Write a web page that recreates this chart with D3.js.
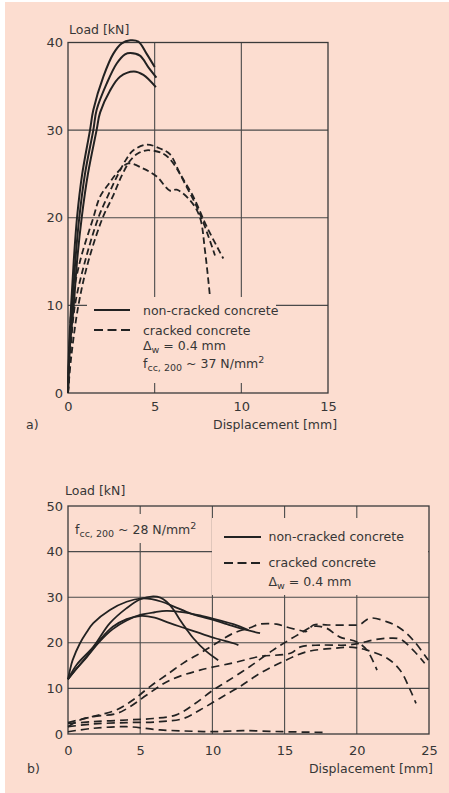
<!DOCTYPE html>
<html>
<head>
<meta charset="utf-8">
<script src="https://cdn.jsdelivr.net/npm/d3@7"></script>
<style>
  html, body { margin: 0; padding: 0; background: #ffffff; }
  svg { display: block; }
  text { font-family: "DejaVu Sans", sans-serif; fill: #363636; }
</style>
</head>
<body>
<svg id="fig" width="449" height="793"></svg>
<script>
// ---- Panel a: tick values (displacement mm, load kN)
const dispTicksA = [0, 5, 10, 15];
const loadTicksA = [0, 10, 20, 30, 40];

// Panel a, non-cracked concrete: [displacement mm, load kN]
const aSolid1 = [[0,0],[0.06,5],[0.18,10],[0.33,15],[0.52,20],[0.82,25],[1.27,30],[1.46,32.3],[2.04,36.1],[2.61,38.7],[3.1,39.9],[3.6,40.25],[4.06,40.1],[4.54,38.7],[5.0,37.2]];
const aSolid2 = [[0,0],[0.08,5],[0.25,10],[0.42,15],[0.65,20],[0.98,25],[1.46,30],[1.65,32.3],[2.23,35.3],[2.81,37.6],[3.29,38.65],[3.6,38.8],[4.15,38.5],[4.63,37.2],[5.1,36.0]];
const aSolid3 = [[0,0],[0.1,5],[0.33,10],[0.52,15],[0.79,20],[1.15,25],[1.65,30],[1.85,32.0],[2.42,34.5],[3.0,36.1],[3.8,36.7],[4.35,36.3],[5.07,34.9]];

// Panel a, cracked concrete (crack width 0.4 mm)
const aDash1 = [[0,0],[0.12,4],[0.4,10],[0.98,15],[1.75,20],[2.3,22.5],[2.9,25],[3.4,26.8],[3.77,27.7],[4.54,28.35],[5.31,27.9],[5.88,27.25],[6.46,25.05],[7.23,22.4],[8.0,19.0],[8.96,15.35]];
const aDash2 = [[0,0],[0.18,4],[0.6,10],[1.17,15],[2.0,20],[2.6,22.5],[3.1,24.8],[3.58,26.5],[4.0,27.3],[4.54,27.7],[5.5,27.3],[6.08,26.2],[6.85,23.5],[7.6,20.5],[8.48,15.7]];
const aDash3 = [[0,0],[0.08,4],[0.21,10],[0.69,15],[1.46,20],[1.85,22.4],[2.4,24],[2.8,25.05],[3.48,26.2],[4.35,25.6],[5.12,24.7],[5.88,23.1],[6.27,23.2],[7.04,22.0],[7.6,20.1],[7.9,16.3],[8.19,11.0]];

// ---- Panel b: tick values
const dispTicksB = [0, 5, 10, 15, 20, 25];
const loadTicksB = [0, 10, 20, 30, 40, 50];

// Panel b, non-cracked concrete
const bSolid1 = [[0,12],[0.15,14.2],[0.32,16.2],[0.83,19.9],[1.29,22.3],[1.75,24.3],[2.9,27.2],[4.06,29.0],[5.1,29.75],[5.8,29.6],[6.5,29.0],[7.3,28.0],[8.2,26.8],[9.0,25.9],[10,25.1],[11,24.1],[12,23.1],[13.3,22.1]];
const bSolid2 = [[0,12],[0.6,15.2],[1.75,19.1],[2.9,24.3],[4.06,27.6],[4.97,29.5],[5.9,30.2],[6.4,29.9],[6.83,29.0],[7.3,27.3],[7.76,25.0],[8.2,23.0],[8.68,21.0],[9.6,18.05],[10.4,16.2]];
const bSolid3 = [[0,12],[0.5,14],[1.29,17],[2.2,20.6],[3.1,23.5],[4.06,25.2],[5.1,25.9],[6.0,25.5],[7.06,24.3],[8.0,23.3],[9.14,22.1],[10.2,21.0],[11.45,19.9],[11.8,19.5]];
const bSolid4 = [[0,12],[0.5,14],[1.29,16.8],[2.2,20.3],[3.1,23.0],[4.06,24.9],[5.0,26.1],[6.0,26.7],[6.8,27.0],[7.76,26.8],[9.14,26.0],[10.5,24.9],[11.45,24.1],[12.5,22.8]];

// Panel b, cracked concrete (crack width 0.4 mm)
const bDash1 = [[0,1.6],[0.83,3.07],[2.2,4.2],[3.37,5.3],[4.52,7.5],[5.68,10.4],[7.06,13.5],[8.1,15.8],[9.14,17.7],[10.06,19.5],[11.45,22.1],[12.6,23.3],[13.3,24.1],[14.45,24.1],[15.1,23.5],[16.1,22.7],[16.5,22.5],[17.0,23.9],[18.0,23.9],[19.3,23.9],[20.2,24.0],[20.9,25.4],[22.1,24.6],[23.0,23.2],[23.9,20.6],[24.95,16.2]];
const bDash2 = [[0,2.5],[1.75,3.8],[3.37,4.5],[4.3,6.0],[5.45,8.55],[7.06,11.8],[9.14,14.0],[11.45,15.6],[13.3,17.0],[15.4,17.7],[16.1,19.1],[17.45,19.5],[19.3,19.5],[20.2,19.9],[21.1,20.6],[22.1,21.0],[23.0,20.8],[23.9,18.4],[24.7,15.5]];
const bDash3 = [[0,2.3],[1.75,2.7],[4.06,3.07],[5.9,3.4],[7.5,4.2],[8.68,6.4],[10.06,9.65],[11.0,11.5],[12.6,14.8],[14.2,18.4],[15.1,20.2],[16.1,22.1],[17.0,23.6],[17.9,23.2],[18.8,21.3],[20.0,20.2],[20.7,18.4],[21.4,14.0]];
const bDash4 = [[0,1.6],[1.75,2.2],[4.06,2.5],[6.37,2.7],[8.0,3.4],[9.14,5.26],[10.5,7.8],[11.9,10.4],[13.3,13.3],[14.9,15.9],[16.5,18.0],[18.4,18.8],[19.75,19.0],[20.7,18.4],[22.1,16.6],[23.0,14.0],[23.7,9.65],[24.1,6.7]];
const bDash5 = [[0,0.5],[1.75,1.25],[4.06,1.6],[6.37,0.9],[8.68,0.6],[10,0.5],[12.1,0.73],[14.9,0.5],[17.7,0.35]];

const ink = "#222222";
const gridInk = "#4a4a4a";
const paper = "#fcddd0";

const svg = d3.select("#fig");

// page background
svg.append("rect").attr("x", 5).attr("y", 2).attr("width", 444).attr("height", 791).attr("fill", paper);

function panel(opts) {
  const x = d3.scaleLinear().domain(opts.xDomain).range([opts.left, opts.right]);
  const y = d3.scaleLinear().domain(opts.yDomain).range([opts.bottom, opts.top]);
  const g = svg.append("g");

  // grid
  const grid = g.append("g").attr("stroke", gridInk).attr("stroke-width", 1.1);
  opts.xTicks.slice(1, -1).forEach(t => {
    grid.append("line").attr("x1", x(t)).attr("x2", x(t)).attr("y1", y.range()[1]).attr("y2", y.range()[0]);
  });
  opts.yTicks.slice(1, -1).forEach(t => {
    grid.append("line").attr("x1", x.range()[0]).attr("x2", x.range()[1]).attr("y1", y(t)).attr("y2", y(t));
  });

  // paper patches behind annotation blocks
  opts.masks.forEach(m => {
    g.append("rect").attr("x", m[0]).attr("y", m[1]).attr("width", m[2]).attr("height", m[3]).attr("fill", paper);
  });

  // frame
  g.append("rect")
    .attr("x", opts.left).attr("y", opts.top)
    .attr("width", opts.right - opts.left).attr("height", opts.bottom - opts.top)
    .attr("fill", "none").attr("stroke", "#3a3a3a").attr("stroke-width", 1.3);

  // axes labels
  const yAxis = d3.axisLeft(y).tickValues(opts.yTicks).tickSize(0).tickPadding(5);
  g.append("g").attr("transform", `translate(${opts.left},0)`).call(yAxis)
    .call(s => s.select(".domain").remove())
    .selectAll("text").style("font-size", "13px").attr("fill", "#363636");
  const xAxis = d3.axisBottom(x).tickValues(opts.xTicks).tickSize(0).tickPadding(opts.xPad);
  g.append("g").attr("transform", `translate(0,${opts.bottom})`).call(xAxis)
    .call(s => s.select(".domain").remove())
    .selectAll("text").style("font-size", "13px").attr("fill", "#363636");
  g.selectAll(".tick text").attr("font-family", "DejaVu Sans");

  const line = d3.line().x(d => x(d[0])).y(d => y(d[1])).curve(d3.curveCatmullRom.alpha(0.5));

  opts.solid.forEach(s => {
    g.append("path").attr("d", line(s)).attr("fill", "none")
      .attr("stroke", ink).attr("stroke-width", opts.solidWidth).attr("stroke-linejoin", "round");
  });
  opts.dashed.forEach(s => {
    g.append("path").attr("d", line(s)).attr("fill", "none")
      .attr("stroke", ink).attr("stroke-width", opts.dashWidth)
      .attr("stroke-dasharray", opts.dashPattern);
  });
  return g;
}

// Panel a
panel({
  xDomain: [0, 15], yDomain: [0, 40],
  left: 68, right: 328, top: 42.5, bottom: 393,
  xTicks: dispTicksA, yTicks: loadTicksA, xPad: 9,
  masks: [[87, 297, 189, 86]],
  solid: [aSolid1, aSolid2, aSolid3],
  dashed: [aDash1, aDash2, aDash3],
  solidWidth: 2, dashWidth: 1.8, dashPattern: "6.5,3.5"
});

// Panel b
panel({
  xDomain: [0, 25], yDomain: [0, 50],
  left: 68, right: 429, top: 506, bottom: 734,
  xTicks: dispTicksB, yTicks: loadTicksB, xPad: 12,
  masks: [[69, 514, 140, 29], [212, 518, 216, 77]],
  solid: [bSolid1, bSolid2, bSolid3, bSolid4],
  dashed: [bDash1, bDash2, bDash3, bDash4, bDash5],
  solidWidth: 1.8, dashWidth: 1.7, dashPattern: "8,5"
});

// Text helpers
function label(x, y, str, anchor) {
  return svg.append("text").attr("x", x).attr("y", y).attr("font-size", 12.5)
    .attr("text-anchor", anchor || "start").text(str);
}
function deltaW(x, y) {
  const t = svg.append("text").attr("x", x).attr("y", y).attr("font-size", 12.5);
  t.append("tspan").text("\u0394");
  t.append("tspan").attr("font-size", 9.5).attr("dy", 3).text("w");
  t.append("tspan").attr("dy", -3).text(" = 0.4 mm");
}
function strength(x, y, val) {
  const t = svg.append("text").attr("x", x).attr("y", y).attr("font-size", 12.5);
  t.append("tspan").text("f");
  t.append("tspan").attr("font-size", 9.5).attr("dy", 3).text("cc, 200");
  t.append("tspan").attr("dy", -3).text(" ~ " + val + " N/mm");
  t.append("tspan").attr("font-size", 9.5).attr("dy", -5).text("2");
}
function legendKey(x1, x2, y, dashed) {
  svg.append("line").attr("x1", x1).attr("x2", x2).attr("y1", y).attr("y2", y)
    .attr("stroke", ink).attr("stroke-width", 2)
    .attr("stroke-dasharray", dashed ? "9,4.5" : null);
}

// Panel a labels
label(69, 34, "Load [kN]");
label(26, 429, "a)");
label(213, 429, "Displacement [mm]");
legendKey(94, 130, 310, false);
label(143, 314.5, "non-cracked concrete");
legendKey(94, 130, 330, true);
label(143, 334.5, "cracked concrete");
deltaW(143, 349.5);
strength(143, 368, 37);

// Panel b labels
label(65, 495, "Load [kN]");
label(27, 773, "b)");
label(433, 773, "Displacement [mm]", "end");
strength(75, 534, 28);
legendKey(224, 261, 537, false);
label(268.5, 541, "non-cracked concrete");
legendKey(224, 261, 563, true);
label(268.5, 567, "cracked concrete");
deltaW(268.5, 585.5);
</script>
</body>
</html>
